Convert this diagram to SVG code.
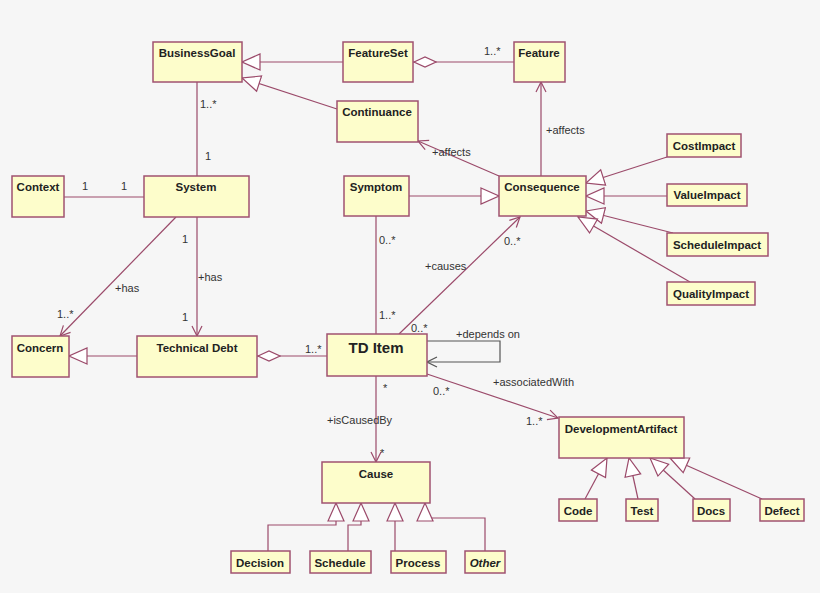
<svg xmlns="http://www.w3.org/2000/svg" width="820" height="593" viewBox="0 0 820 593">
<style>
.n rect{fill:#fdfdcb;stroke:#a05270;stroke-width:1.5}
.n text{font-family:"Liberation Sans",Arial,sans-serif;font-weight:bold;font-size:11.5px;fill:#222;text-anchor:middle}
.c line,.c polyline{stroke:#9b4a6a;stroke-width:1.2;fill:none}
.l{font-family:"Liberation Sans",Arial,sans-serif;font-size:11px;fill:#333}
</style>
<defs>
<marker id="tri" viewBox="0 0 20 20" refX="19" refY="10" markerWidth="20" markerHeight="20" markerUnits="userSpaceOnUse" orient="auto"><path d="M1,2 L19,10 L1,18 Z" fill="#fff" stroke="#9b4a6a" stroke-width="1.2"/></marker>
<marker id="dia" viewBox="0 0 24 12" refX="0" refY="6" markerWidth="24" markerHeight="12" markerUnits="userSpaceOnUse" orient="auto"><path d="M1,6 L12,1 L23,6 L12,11 Z" fill="#fff" stroke="#9b4a6a" stroke-width="1.2"/></marker>
<marker id="arr" viewBox="0 0 12 12" refX="11" refY="6" markerWidth="12" markerHeight="12" markerUnits="userSpaceOnUse" orient="auto"><path d="M1,1 L11,6 L1,11" fill="none" stroke="#9b4a6a" stroke-width="1.2"/></marker>
<marker id="arrg" viewBox="0 0 12 12" refX="11" refY="6" markerWidth="12" markerHeight="12" markerUnits="userSpaceOnUse" orient="auto"><path d="M1,1 L11,6 L1,11" fill="none" stroke="#555" stroke-width="1.2"/></marker>
</defs>
<rect width="820" height="593" fill="#f6f6f6"/>
<g class="c">
<line x1="343" y1="62" x2="242" y2="62" marker-end="url(#tri)"/>
<line x1="337" y1="109" x2="242" y2="78" marker-end="url(#tri)"/>
<line x1="413" y1="62" x2="514" y2="62" marker-start="url(#dia)"/>
<line x1="197" y1="82" x2="197" y2="176"/>
<line x1="64" y1="197" x2="144" y2="197"/>
<line x1="176" y1="217" x2="60" y2="336" marker-end="url(#arr)"/>
<line x1="197" y1="217" x2="197" y2="336" marker-end="url(#arr)"/>
<line x1="137" y1="356" x2="69" y2="356" marker-end="url(#tri)"/>
<line x1="257" y1="356" x2="327" y2="356" marker-start="url(#dia)"/>
<line x1="376" y1="216" x2="376" y2="334"/>
<line x1="409" y1="196" x2="499" y2="196" marker-end="url(#tri)"/>
<line x1="399" y1="334" x2="520" y2="217" marker-end="url(#arr)"/>
<line x1="499" y1="176" x2="418" y2="141" marker-end="url(#arr)"/>
<line x1="541" y1="176" x2="541" y2="82" marker-end="url(#arr)"/>
<line x1="667" y1="157" x2="586" y2="183" marker-end="url(#tri)"/>
<line x1="667" y1="196" x2="586" y2="196" marker-end="url(#tri)"/>
<line x1="673" y1="233" x2="586" y2="211" marker-end="url(#tri)"/>
<line x1="690" y1="282" x2="578" y2="217" marker-end="url(#tri)"/>
<polyline points="427,341 500,341 500,362 427,362" style="stroke:#555" marker-end="url(#arrg)"/>
<line x1="427" y1="374" x2="558" y2="418" marker-end="url(#arr)"/>
<line x1="376" y1="376" x2="376" y2="462" marker-end="url(#arr)"/>
<polyline points="268,551 268,525 336,525 336,503" marker-end="url(#tri)"/>
<polyline points="348,551 348,525 361,525 361,503" marker-end="url(#tri)"/>
<polyline points="395,551 395,503" marker-end="url(#tri)"/>
<polyline points="485,551 485,518 425,518 425,503" marker-end="url(#tri)"/>
<line x1="585" y1="499" x2="607" y2="458" marker-end="url(#tri)"/>
<line x1="638" y1="499" x2="629" y2="458" marker-end="url(#tri)"/>
<line x1="695" y1="499" x2="650" y2="458" marker-end="url(#tri)"/>
<line x1="762" y1="499" x2="670" y2="458" marker-end="url(#tri)"/>
</g>
<g class="l">
<text x="484" y="55">1..*</text>
<text x="200" y="108">1..*</text>
<text x="205" y="160">1</text>
<text x="82" y="190">1</text>
<text x="121" y="190">1</text>
<text x="115" y="292">+has</text>
<text x="57" y="318">1..*</text>
<text x="182" y="243">1</text>
<text x="198" y="281">+has</text>
<text x="182" y="321">1</text>
<text x="305" y="353">1..*</text>
<text x="379" y="244">0..*</text>
<text x="379" y="319">1..*</text>
<text x="425" y="270">+causes</text>
<text x="504" y="245">0..*</text>
<text x="411" y="332">0..*</text>
<text x="432" y="156">+affects</text>
<text x="546" y="134">+affects</text>
<text x="456" y="338">+depends on</text>
<text x="493" y="386">+associatedWith</text>
<text x="433" y="395">0..*</text>
<text x="526" y="425">1..*</text>
<text x="383" y="392">*</text>
<text x="327" y="424">+isCausedBy</text>
<text x="380" y="457">*</text>
</g>
<g class="n" id="BusinessGoal"><rect x="153" y="42" width="89" height="40"/><text x="197" y="57">BusinessGoal</text></g>
<g class="n" id="FeatureSet"><rect x="343" y="42" width="70" height="40"/><text x="378" y="57">FeatureSet</text></g>
<g class="n" id="Feature"><rect x="514" y="42" width="51" height="40"/><text x="539" y="57">Feature</text></g>
<g class="n" id="Continuance"><rect x="337" y="101" width="81" height="41"/><text x="377" y="116">Continuance</text></g>
<g class="n" id="Context"><rect x="12" y="176" width="52" height="41"/><text x="38" y="191">Context</text></g>
<g class="n" id="System"><rect x="144" y="176" width="105" height="41"/><text x="196" y="191">System</text></g>
<g class="n" id="Symptom"><rect x="344" y="176" width="65" height="40"/><text x="376" y="191">Symptom</text></g>
<g class="n" id="Consequence"><rect x="499" y="176" width="87" height="40"/><text x="542" y="191">Consequence</text></g>
<g class="n" id="CostImpact"><rect x="667" y="134" width="74" height="23"/><text x="704" y="150">CostImpact</text></g>
<g class="n" id="ValueImpact"><rect x="667" y="184" width="80" height="22"/><text x="707" y="199">ValueImpact</text></g>
<g class="n" id="ScheduleImpact"><rect x="667" y="233" width="101" height="23"/><text x="717" y="249">ScheduleImpact</text></g>
<g class="n" id="QualityImpact"><rect x="667" y="282" width="88" height="23"/><text x="711" y="298">QualityImpact</text></g>
<g class="n" id="Concern"><rect x="12" y="336" width="57" height="41"/><text x="40" y="352">Concern</text></g>
<g class="n" id="TechnicalDebt"><rect x="137" y="336" width="120" height="41"/><text x="197" y="352">Technical Debt</text></g>
<g class="n" id="TDItem"><rect x="327" y="334" width="100" height="42"/><text x="376" y="353" style="font-size:15px">TD Item</text></g>
<g class="n" id="Cause"><rect x="322" y="462" width="108" height="41"/><text x="376" y="478">Cause</text></g>
<g class="n" id="DevelopmentArtifact"><rect x="559" y="417" width="125" height="41"/><text x="621" y="433">DevelopmentArtifact</text></g>
<g class="n" id="Code"><rect x="559" y="499" width="38" height="22"/><text x="578" y="515">Code</text></g>
<g class="n" id="Test"><rect x="626" y="499" width="32" height="22"/><text x="642" y="515">Test</text></g>
<g class="n" id="Docs"><rect x="693" y="499" width="37" height="22"/><text x="711" y="515">Docs</text></g>
<g class="n" id="Defect"><rect x="760" y="499" width="44" height="22"/><text x="782" y="515">Defect</text></g>
<g class="n" id="Decision"><rect x="231" y="551" width="59" height="22"/><text x="260" y="567">Decision</text></g>
<g class="n" id="Schedule"><rect x="310" y="551" width="61" height="22"/><text x="340" y="567">Schedule</text></g>
<g class="n" id="Process"><rect x="391" y="551" width="55" height="22"/><text x="418" y="567">Process</text></g>
<g class="n" id="Other"><rect x="465" y="551" width="40" height="22"/><text x="485" y="567" style="font-style:italic">Other</text></g>
</svg>
